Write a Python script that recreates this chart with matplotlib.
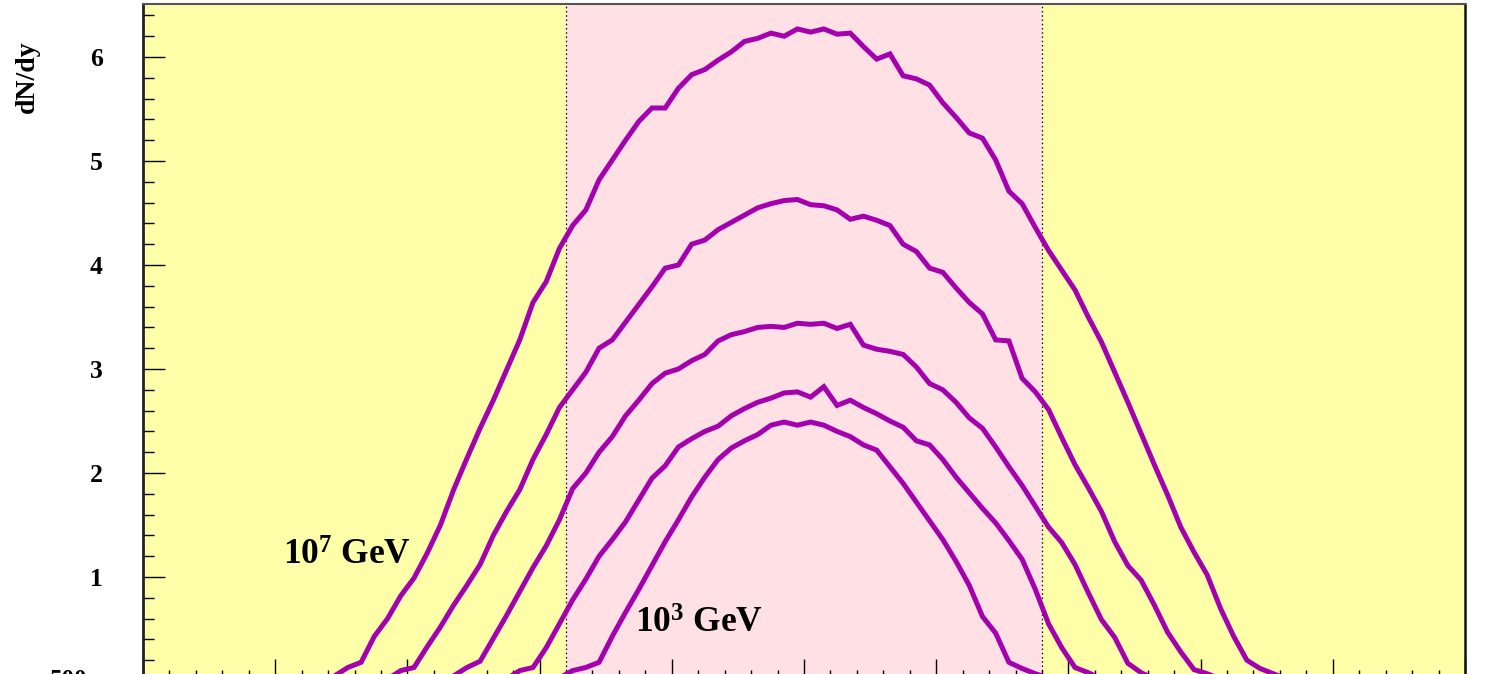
import numpy as np
import matplotlib
matplotlib.use("Agg")
import matplotlib.pyplot as plt
from matplotlib.ticker import MultipleLocator

plt.rcParams['mathtext.fontset'] = 'custom'
plt.rcParams['mathtext.rm'] = 'Liberation Serif:bold'
plt.rcParams['mathtext.bf'] = 'Liberation Serif:bold'
plt.rcParams['mathtext.it'] = 'Liberation Serif:bold'

SERIF = 'Liberation Serif'

# rapidity bin centres (bin width 0.1) where each spectrum starts
start_1e7 = -3.65
start_1e6 = -3.15
start_1e5 = -2.75
start_1e4 = -2.25
start_1e3 = -1.85

# dN/dy per rapidity bin
dndy_1e7 = [0.02, 0.05, 0.13, 0.18, 0.43, 0.60, 0.82, 0.99, 1.23, 1.50,
            1.84, 2.14, 2.43, 2.70, 2.99, 3.28, 3.64, 3.84, 4.16, 4.38,
            4.53, 4.82, 5.01, 5.20, 5.38, 5.51, 5.51, 5.70, 5.83, 5.88,
            5.97, 6.05, 6.15, 6.18, 6.23, 6.20, 6.27, 6.24, 6.27, 6.22,
            6.23, 6.10, 5.98, 6.03, 5.82, 5.79, 5.73, 5.56, 5.42, 5.27,
            5.22, 5.01, 4.71, 4.59, 4.36, 4.14, 3.95, 3.76, 3.50, 3.26,
            2.97, 2.68, 2.38, 2.08, 1.79, 1.48, 1.24, 1.02, 0.70, 0.43,
            0.20, 0.12, 0.07, 0.02]

dndy_1e6 = [0.02, 0.10, 0.13, 0.33, 0.52, 0.73, 0.92, 1.12, 1.40, 1.63,
            1.84, 2.13, 2.37, 2.63, 2.80, 2.97, 3.20, 3.28, 3.45, 3.62,
            3.79, 3.97, 4.00, 4.20, 4.24, 4.34, 4.41, 4.48, 4.55, 4.59,
            4.62, 4.63, 4.58, 4.57, 4.53, 4.44, 4.47, 4.43, 4.38, 4.20,
            4.13, 3.97, 3.93, 3.78, 3.64, 3.53, 3.28, 3.27, 2.91, 2.78,
            2.61, 2.34, 2.08, 1.86, 1.63, 1.34, 1.11, 0.97, 0.73, 0.47,
            0.28, 0.11, 0.07, 0.02]

dndy_1e5 = [0.02, 0.05, 0.13, 0.19, 0.41, 0.63, 0.86, 1.09, 1.30, 1.55,
            1.85, 2.00, 2.20, 2.35, 2.55, 2.70, 2.86, 2.96, 3.00, 3.08,
            3.14, 3.27, 3.33, 3.36, 3.40, 3.41, 3.40, 3.44, 3.43, 3.44,
            3.39, 3.43, 3.23, 3.19, 3.17, 3.14, 3.02, 2.86, 2.80, 2.68,
            2.53, 2.43, 2.25, 2.06, 1.88, 1.68, 1.48, 1.33, 1.12, 0.85,
            0.59, 0.42, 0.17, 0.08, 0.02]

dndy_1e4 = [0.02, 0.10, 0.13, 0.32, 0.55, 0.78, 0.98, 1.20, 1.36, 1.53,
            1.74, 1.95, 2.07, 2.25, 2.33, 2.40, 2.45, 2.55, 2.62, 2.68,
            2.72, 2.77, 2.78, 2.73, 2.83, 2.65, 2.70, 2.63, 2.57, 2.50,
            2.44, 2.31, 2.27, 2.13, 1.96, 1.81, 1.66, 1.52, 1.35, 1.17,
            0.88, 0.55, 0.32, 0.13, 0.08, 0.02]

dndy_1e3 = [0.03, 0.10, 0.13, 0.18, 0.43, 0.66, 0.88, 1.11, 1.34, 1.55,
            1.77, 1.96, 2.13, 2.24, 2.31, 2.37, 2.46, 2.49, 2.46, 2.49,
            2.46, 2.40, 2.35, 2.27, 2.22, 2.06, 1.90, 1.72, 1.54, 1.36,
            1.15, 0.92, 0.62, 0.46, 0.18, 0.12, 0.07, 0.03]

central_cut = 1.8          # |y| acceptance window
y_ticks = [1, 2, 3, 4, 5, 6]

LINE_COLOR = '#A400AE'
YELLOW = '#FFFFAA'
PINK = '#FFE0E4'


def bins(start, values):
    return start + 0.1 * np.arange(len(values))


fig = plt.figure(figsize=(14.91, 6.74), dpi=100)
W, H = 1491, 674
left_px, right_px, top_px, bottom_px = 143, 1465, 4, 681
ax = fig.add_axes([left_px / W, (H - bottom_px) / H,
                   (right_px - left_px) / W, (bottom_px - top_px) / H])

ax.set_facecolor(YELLOW)
ax.axvspan(-central_cut, central_cut, color=PINK, zorder=0, lw=0)
for xc in (-central_cut, central_cut):
    ax.axvline(xc, color='black', lw=0.9, ls=(0, (1.2, 2.2)), zorder=1)

for start, vals in [(start_1e7, dndy_1e7), (start_1e6, dndy_1e6),
                    (start_1e5, dndy_1e5), (start_1e4, dndy_1e4),
                    (start_1e3, dndy_1e3)]:
    ax.plot(bins(start, vals), vals, color=LINE_COLOR, lw=3.6,
            solid_joinstyle='miter', zorder=3)

ax.set_xlim(-5, 5)
ax.set_ylim(0, 6.51)

ax.xaxis.set_major_locator(MultipleLocator(1))
ax.xaxis.set_minor_locator(MultipleLocator(0.2))
ax.set_yticks(y_ticks)
ax.yaxis.set_minor_locator(MultipleLocator(0.2))
ax.tick_params(axis='both', which='both', direction='in', color='black',
               top=False, right=False)
ax.tick_params(axis='both', which='major', length=16, width=1.0)
ax.tick_params(axis='both', which='minor', length=8, width=1.0)
ax.tick_params(axis='x', labelbottom=False)
ax.tick_params(axis='y', pad=29)
for lab in ax.get_yticklabels():
    lab.set_fontfamily(SERIF)
    lab.set_fontweight('bold')
    lab.set_fontsize(18.5)

ax.spines['left'].set_linewidth(2.0)
ax.spines['left'].set_color('#222222')
ax.spines['right'].set_linewidth(1.8)
ax.spines['right'].set_color('#111111')
ax.spines['top'].set_linewidth(1.5)
ax.spines['top'].set_color('#555555')

fig.text(27 / W, 1 - 77 / H, 'dN/dy', rotation=90, ha='center', va='center',
         fontfamily=SERIF, fontweight='bold', fontsize=20)

fig.text(283 / W, (H - 565) / H, r'$\mathbf{10^{7}}$ GeV', ha='left',
         va='baseline', fontfamily=SERIF, fontweight='bold', fontsize=25.5)
fig.text(635 / W, (H - 633) / H, r'$\mathbf{10^{3}}$ GeV', ha='left',
         va='baseline', fontfamily=SERIF, fontweight='bold', fontsize=25.5)

fig.text(69 / W, (H - 687) / H, '500', ha='center', va='baseline',
         fontfamily=SERIF, fontweight='bold', fontsize=18)

fig.savefig('out.png', dpi=100)
